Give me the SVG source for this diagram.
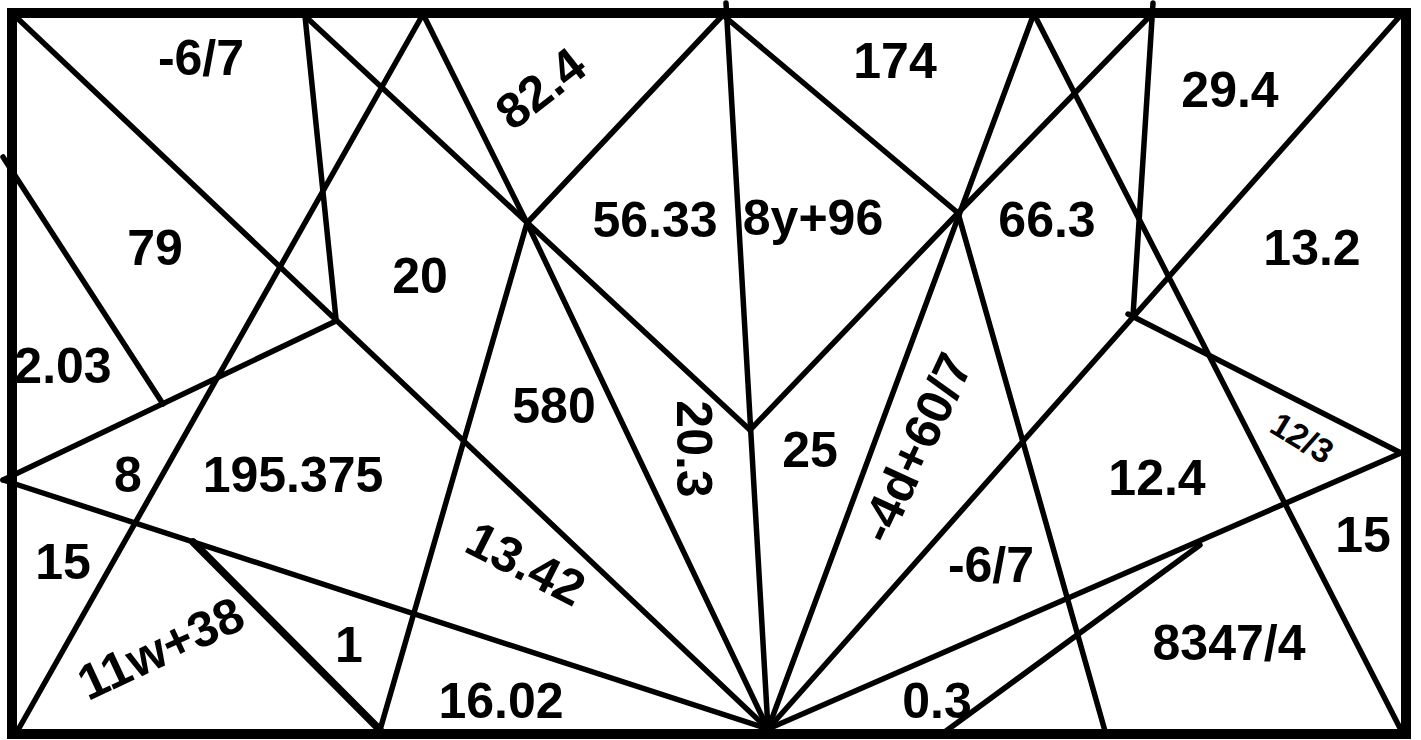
<svg xmlns="http://www.w3.org/2000/svg" width="1421" height="740" viewBox="0 0 1421 740">
<style>
.ln{stroke:#000;stroke-width:5.5;fill:none;stroke-linecap:round;stroke-linejoin:round}
.thick{stroke-width:7.5}
.lb{font-family:"Liberation Sans",Arial,sans-serif;font-weight:bold;font-size:50px;fill:#000;text-anchor:middle}
.sm{font-size:34px}
</style>
<rect width="1421" height="740" fill="#fff"/>
<g id="labels">
<text class="lb" x="201" y="75">-6/7</text>
<text class="lb" x="155" y="265">79</text>
<text class="lb" x="420" y="293">20</text>
<text class="lb" x="63" y="383">2.03</text>
<text class="lb" x="128" y="492">8</text>
<text class="lb" x="293" y="492">195.375</text>
<text class="lb" x="63" y="579">15</text>
<text class="lb" transform="translate(168,664) rotate(-25)">11w+38</text>
<text class="lb" x="349" y="662">1</text>
<text class="lb" x="501" y="718">16.02</text>
<text class="lb" x="554" y="423">580</text>
<text class="lb" transform="translate(518,579) rotate(27)">13.42</text>
<text class="lb" transform="translate(677,449) rotate(90)">20.3</text>
<text class="lb" x="810" y="467">25</text>
<text class="lb" transform="translate(931,455) rotate(-65)">-4d+60/7</text>
<text class="lb" x="655" y="237">56.33</text>
<text class="lb" x="813" y="235">8y+96</text>
<text class="lb" x="895" y="78">174</text>
<text class="lb" transform="translate(551,102) rotate(-38)">82.4</text>
<text class="lb" x="1047" y="237">66.3</text>
<text class="lb" x="1230" y="107">29.4</text>
<text class="lb" x="1312" y="265">13.2</text>
<text class="lb" x="1157" y="495">12.4</text>
<text class="lb sm" transform="translate(1296,448) rotate(31)">12/3</text>
<text class="lb" x="1363" y="552">15</text>
<text class="lb" x="991" y="582">-6/7</text>
<text class="lb" x="1229" y="660">8347/4</text>
<text class="lb" x="937" y="718">0.3</text>
</g>
<g id="connectors">
<line class="ln" x1="14" y1="15" x2="768" y2="729"/>
<line class="ln" x1="305" y1="16" x2="336" y2="319"/>
<line class="ln" x1="336" y1="321" x2="3" y2="480"/>
<line class="ln" x1="3" y1="157" x2="163" y2="404"/>
<line class="ln" x1="422" y1="16" x2="18" y2="730"/>
<line class="ln" x1="305" y1="16" x2="750" y2="430"/>
<polyline class="ln" points="424,16 527,223 768,729"/>
<line class="ln" x1="527" y1="223" x2="380" y2="730"/>
<line class="ln" x1="527" y1="223" x2="722" y2="16"/>
<line class="ln" x1="726" y1="3" x2="768" y2="729"/>
<line class="ln" x1="724" y1="16" x2="958" y2="213"/>
<polyline class="ln" points="750,430 958,213 1150,16"/>
<line class="ln" x1="1033" y1="16" x2="768" y2="729"/>
<line class="ln" x1="958" y1="213" x2="1105" y2="731"/>
<line class="ln" x1="1035" y1="16" x2="1401" y2="730"/>
<line class="ln" x1="1153" y1="3" x2="1133" y2="316"/>
<line class="ln" x1="1400" y1="16" x2="768" y2="729"/>
<line class="ln" x1="1128" y1="314" x2="1401" y2="453"/>
<line class="ln" x1="1401" y1="453" x2="768" y2="729"/>
<line class="ln" x1="946" y1="731" x2="1200" y2="545"/>
<line class="ln" x1="3" y1="480" x2="768" y2="729"/>
<line class="ln thick" x1="193" y1="542" x2="380" y2="730"/>
</g>
<g id="frame">
<rect x="12" y="13" width="1394" height="721" fill="none" stroke="#000" stroke-width="10"/>
</g>
</svg>
